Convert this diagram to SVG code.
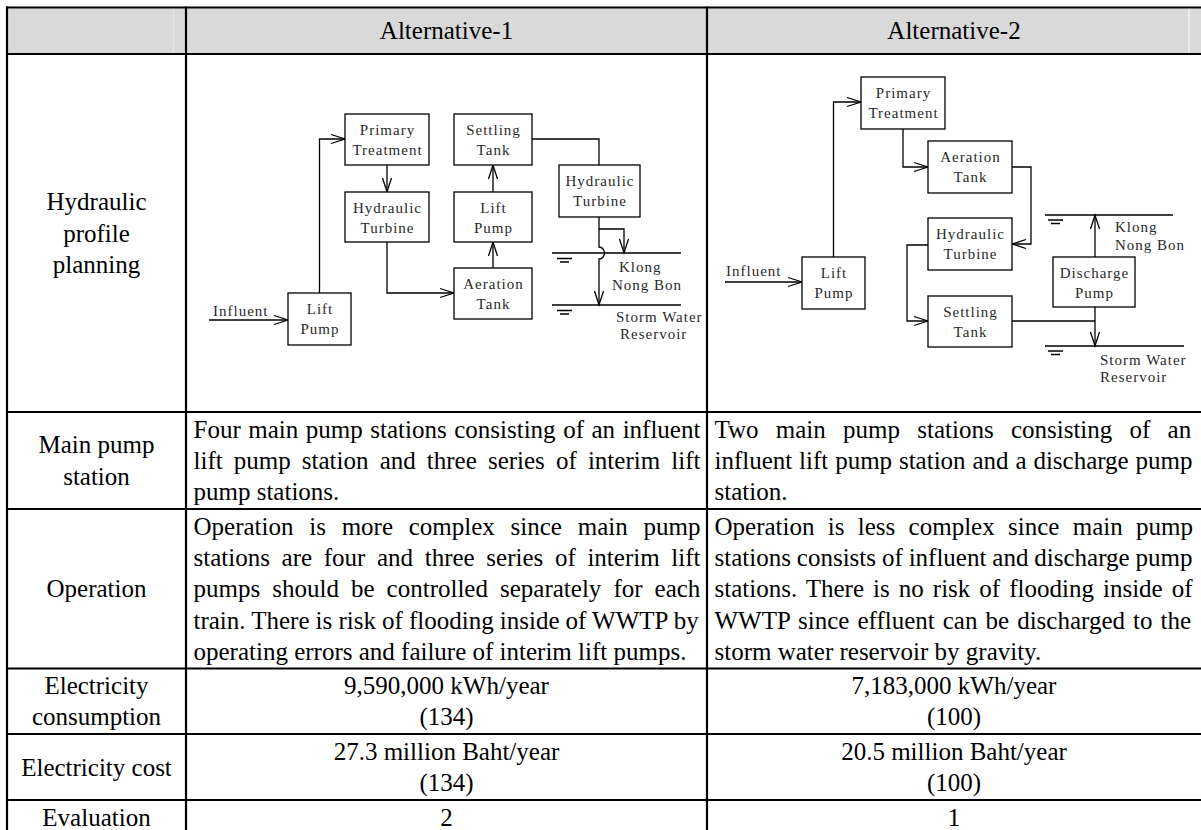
<svg xmlns="http://www.w3.org/2000/svg" width="1201" height="830" viewBox="0 0 1201 830">
  <style>
    .cell { font-family: "Liberation Serif", "Times New Roman", serif; font-size: 25px; fill: #000; }
    .c { text-anchor: middle; }
    .lbl { font-family: "Liberation Serif", "Times New Roman", serif; font-size: 15px; letter-spacing: 1px; fill: #2a2a2a; text-anchor: middle; }
    .tag { font-family: "Liberation Serif", "Times New Roman", serif; font-size: 15px; letter-spacing: 1px; fill: #2a2a2a; }
    .box { fill: #fff; stroke: #000; stroke-width: 1.3; }
    .wire { fill: none; stroke: #000; stroke-width: 1.3; }
    .grid { stroke: #000; stroke-width: 2.2; fill: none; }
  </style>
  <defs>
    <marker id="arr" markerUnits="userSpaceOnUse" markerWidth="16" markerHeight="12" refX="14" refY="5" orient="auto" overflow="visible">
      <path d="M0,0.5 L14,5 L0,9.5" fill="none" stroke="#000" stroke-width="1.3"/>
    </marker>
  </defs>

  <rect width="1201" height="830" fill="#fff"/>

  <!-- header shading -->
  <rect x="8" y="8.5" width="1195" height="44.5" fill="#d9d9d9"/>
  <line x1="173.5" y1="8.5" x2="173.5" y2="53" stroke="#e6e6e6" stroke-width="1"/>
  <line x1="1189" y1="8.5" x2="1189" y2="53" stroke="#f2f2f2" stroke-width="1.5"/>

  <!-- table grid -->
  <g id="table-grid" class="grid">
    <line x1="6" y1="7.5" x2="1205" y2="7.5"/>
    <line x1="6" y1="54" x2="1205" y2="54"/>
    <line x1="6" y1="412" x2="1205" y2="412"/>
    <line x1="6" y1="509" x2="1205" y2="509"/>
    <line x1="6" y1="668.5" x2="1205" y2="668.5"/>
    <line x1="6" y1="734" x2="1205" y2="734"/>
    <line x1="6" y1="800" x2="1205" y2="800"/>
    <line x1="7" y1="6.5" x2="7" y2="840"/>
    <line x1="186" y1="6.5" x2="186" y2="840"/>
    <line x1="707" y1="6.5" x2="707" y2="840"/>
    <line x1="1203" y1="6.5" x2="1203" y2="840"/>
  </g>

  <!-- header -->
  <g id="header" class="cell c">
    <text x="446.5" y="39">Alternative-1</text>
    <text x="954" y="39">Alternative-2</text>
  </g>

  <!-- row labels -->
  <g id="row-labels" class="cell c">
    <text x="96.5" y="210">Hydraulic</text>
    <text x="96.5" y="241.5">profile</text>
    <text x="96.5" y="273">planning</text>
    <text x="96.5" y="453">Main pump</text>
    <text x="96.5" y="484.5">station</text>
    <text x="96.5" y="597">Operation</text>
    <text x="96.5" y="694">Electricity</text>
    <text x="96.5" y="725">consumption</text>
    <text x="96.5" y="775.5">Electricity cost</text>
    <text x="96.5" y="826">Evaluation</text>
  </g>

  <!-- main pump station -->
  <g id="main-pump-text" class="cell">
    <text x="193.5" y="438" word-spacing="1.29">Four main pump stations consisting of an influent</text>
    <text x="193.5" y="469" word-spacing="4.87">lift pump station and three series of interim lift</text>
    <text x="193.5" y="500">pump stations.</text>
    <text x="714.5" y="438" word-spacing="11">Two main pump stations consisting of an</text>
    <text x="714.5" y="469" word-spacing="0.61">influent lift pump station and a discharge pump</text>
    <text x="714.5" y="500">station.</text>
  </g>

  <!-- operation -->
  <g id="operation-text" class="cell">
    <text x="193.5" y="535" word-spacing="9.5">Operation is more complex since main pump</text>
    <text x="193.5" y="566" word-spacing="5.4">stations are four and three series of interim lift</text>
    <text x="193.5" y="597" word-spacing="5.8">pumps should be controlled separately for each</text>
    <text x="193.5" y="628.5" word-spacing="-0.14">train. There is risk of flooding inside of WWTP by</text>
    <text x="193.5" y="660">operating errors and failure of interim lift pumps.</text>
    <text x="714.5" y="535" word-spacing="7.07">Operation is less complex since main pump</text>
    <text x="714.5" y="566" word-spacing="-0.33">stations consists of influent and discharge pump</text>
    <text x="714.5" y="597" word-spacing="2.79">stations. There is no risk of flooding inside of</text>
    <text x="714.5" y="628.5" word-spacing="1.81">WWTP since effluent can be discharged to the</text>
    <text x="714.5" y="660">storm water reservoir by gravity.</text>
  </g>

  <!-- electricity and evaluation -->
  <g id="figures" class="cell c">
    <text x="446.5" y="694">9,590,000 kWh/year</text>
    <text x="446.5" y="725">(134)</text>
    <text x="954" y="694">7,183,000 kWh/year</text>
    <text x="954" y="725">(100)</text>
    <text x="446.5" y="760">27.3 million Baht/year</text>
    <text x="446.5" y="791">(134)</text>
    <text x="954" y="760">20.5 million Baht/year</text>
    <text x="954" y="791">(100)</text>
    <text x="446.5" y="826">2</text>
    <text x="954" y="826">1</text>
  </g>

  <!-- ===== Alternative-1 flow ===== -->
  <g id="a1-connectors">
    <path class="wire" d="M209,320 H288" marker-end="url(#arr)"/>
    <path class="wire" d="M319.5,293 V139 H345" marker-end="url(#arr)"/>
    <path class="wire" d="M387,165 V192" marker-end="url(#arr)"/>
    <path class="wire" d="M387,242 V293 H454" marker-end="url(#arr)"/>
    <path class="wire" d="M493,268 V242" marker-end="url(#arr)"/>
    <path class="wire" d="M493,192 V165" marker-end="url(#arr)"/>
    <path class="wire" d="M532,139 H599 V165"/>
    <path class="wire" d="M599,217 V229 H624 V253" marker-end="url(#arr)"/>
    <path class="wire" d="M599,229 V247 A5.5,6 0 0 1 599,259 V305" marker-end="url(#arr)"/>
    <!-- water levels -->
    <path class="wire" d="M552,253 H681 M552,305 H681"/>
    <path class="wire" d="M557,258.5 H572 M560,262 H569 M557,310.5 H572 M560,314 H569"/>
  </g>
  <g id="a1-influent"><text class="tag" x="213" y="316">Influent</text></g>
  <g id="a1-lift-pump">
    <rect class="box" x="288" y="293" width="63" height="52"/>
    <text class="lbl" x="320" y="314">Lift</text>
    <text class="lbl" x="320" y="334">Pump</text>
  </g>
  <g id="a1-primary">
    <rect class="box" x="345" y="114" width="84" height="51"/>
    <text class="lbl" x="387.5" y="135">Primary</text>
    <text class="lbl" x="387.5" y="155">Treatment</text>
  </g>
  <g id="a1-turbine-1">
    <rect class="box" x="345" y="192" width="84" height="50"/>
    <text class="lbl" x="387.5" y="213">Hydraulic</text>
    <text class="lbl" x="387.5" y="233">Turbine</text>
  </g>
  <g id="a1-aeration">
    <rect class="box" x="454" y="268" width="78" height="51"/>
    <text class="lbl" x="493.5" y="289">Aeration</text>
    <text class="lbl" x="493.5" y="309">Tank</text>
  </g>
  <g id="a1-lift-pump-2">
    <rect class="box" x="454" y="192" width="78" height="50"/>
    <text class="lbl" x="493.5" y="213">Lift</text>
    <text class="lbl" x="493.5" y="233">Pump</text>
  </g>
  <g id="a1-settling">
    <rect class="box" x="454" y="114" width="78" height="51"/>
    <text class="lbl" x="493.5" y="135">Settling</text>
    <text class="lbl" x="493.5" y="155">Tank</text>
  </g>
  <g id="a1-turbine-2">
    <rect class="box" x="559" y="165" width="81" height="52"/>
    <text class="lbl" x="600" y="186">Hydraulic</text>
    <text class="lbl" x="600" y="206">Turbine</text>
  </g>
  <g id="a1-klong">
    <text class="tag" x="619" y="272">Klong</text>
    <text class="tag" x="612" y="290">Nong Bon</text>
  </g>
  <g id="a1-reservoir">
    <text class="tag" x="616" y="322">Storm Water</text>
    <text class="tag" x="620" y="339">Reservoir</text>
  </g>

  <!-- ===== Alternative-2 flow ===== -->
  <g id="a2-connectors">
    <path class="wire" d="M725,282 H802" marker-end="url(#arr)"/>
    <path class="wire" d="M833.5,257 V102 H861" marker-end="url(#arr)"/>
    <path class="wire" d="M903,129 V167 H928" marker-end="url(#arr)"/>
    <path class="wire" d="M1012,167 H1031 V244 H1012" marker-end="url(#arr)"/>
    <path class="wire" d="M928,245 H907 V321 H928" marker-end="url(#arr)"/>
    <path class="wire" d="M1012,321 H1095"/>
    <path class="wire" d="M1095,307 V346" marker-end="url(#arr)"/>
    <path class="wire" d="M1095,257 V215" marker-end="url(#arr)"/>
    <!-- water levels -->
    <path class="wire" d="M1045,215 H1173 M1045,346 H1184"/>
    <path class="wire" d="M1048,220 H1063 M1051,223.5 H1060 M1048,351 H1063 M1051,354.5 H1060"/>
  </g>
  <g id="a2-influent"><text class="tag" x="726" y="276">Influent</text></g>
  <g id="a2-lift-pump">
    <rect class="box" x="802" y="257" width="63" height="52"/>
    <text class="lbl" x="834" y="278">Lift</text>
    <text class="lbl" x="834" y="298">Pump</text>
  </g>
  <g id="a2-primary">
    <rect class="box" x="861" y="77" width="84" height="52"/>
    <text class="lbl" x="903.5" y="98">Primary</text>
    <text class="lbl" x="903.5" y="118">Treatment</text>
  </g>
  <g id="a2-aeration">
    <rect class="box" x="928" y="141" width="84" height="52"/>
    <text class="lbl" x="970.5" y="162">Aeration</text>
    <text class="lbl" x="970.5" y="182">Tank</text>
  </g>
  <g id="a2-turbine">
    <rect class="box" x="928" y="218" width="84" height="52"/>
    <text class="lbl" x="970.5" y="239">Hydraulic</text>
    <text class="lbl" x="970.5" y="259">Turbine</text>
  </g>
  <g id="a2-settling">
    <rect class="box" x="928" y="296" width="84" height="51"/>
    <text class="lbl" x="970.5" y="317">Settling</text>
    <text class="lbl" x="970.5" y="337">Tank</text>
  </g>
  <g id="a2-discharge">
    <rect class="box" x="1053" y="257" width="82" height="50"/>
    <text class="lbl" x="1094.5" y="278">Discharge</text>
    <text class="lbl" x="1094.5" y="298">Pump</text>
  </g>
  <g id="a2-klong">
    <text class="tag" x="1115" y="232">Klong</text>
    <text class="tag" x="1115" y="250">Nong Bon</text>
  </g>
  <g id="a2-reservoir">
    <text class="tag" x="1100" y="365">Storm Water</text>
    <text class="tag" x="1100" y="382">Reservoir</text>
  </g>
</svg>
